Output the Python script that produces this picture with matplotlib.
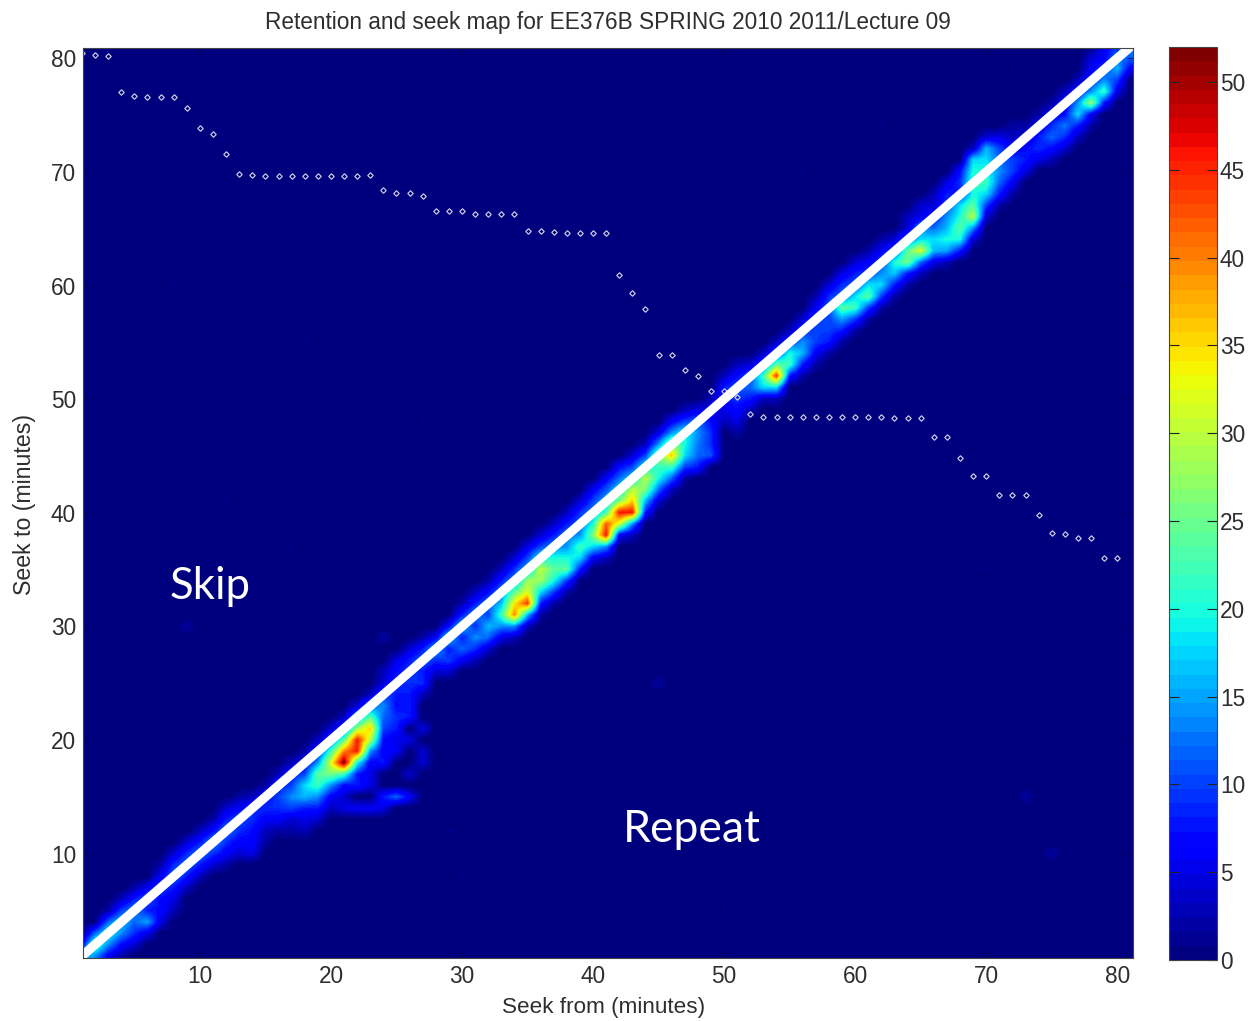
import numpy as np
import matplotlib
matplotlib.use("Agg")
import matplotlib.pyplot as plt
from matplotlib.colors import ListedColormap, Normalize

TITLE = "Retention and seek map for EE376B SPRING 2010 2011/Lecture 09"
XLABEL = "Seek from (minutes)"
YLABEL = "Seek to (minutes)"
TICKS = [10, 20, 30, 40, 50, 60, 70, 80]
CBAR_TICKS = [0, 5, 10, 15, 20, 25, 30, 35, 40, 45, 50]
MINUTES = list(range(1, 82))
DIAGONAL = [1, 82]

# offset = seek-from minus seek-to, one row per seek-from minute
BAND_OFFSETS = [-3, -2, -1, 0, 1, 2, 3, 4, 5, 6]
BAND_VALUES = [
    [0, 0, 6, 18, 8, 0, 0, 0, 0, 0],
    [0, 0, 12, 24, 14, 4, 0, 0, 0, 0],
    [0, 2, 12, 20, 14, 6, 0, 0, 0, 0],
    [0, 3, 10, 17, 14, 7, 2, 0, 0, 0],
    [0, 2, 8, 14, 12, 9, 4, 0, 0, 0],
    [0, 0, 6, 11, 8, 15, 5, 0, 0, 0],
    [0, 2, 6, 10, 7, 7, 5, 0, 0, 0],
    [0, 4, 9, 12, 8, 5, 3, 0, 0, 0],
    [0, 4, 9, 12, 8, 3, 0, 0, 0, 0],
    [0, 3, 8, 13, 8, 3, 0, 0, 0, 0],
    [0, 2, 7, 14, 9, 4, 0, 0, 0, 0],
    [0, 4, 8, 13, 9, 6, 2, 0, 0, 0],
    [0, 2, 6, 11, 9, 6, 4, 0, 0, 0],
    [0, 0, 3, 9, 9, 7, 7, 5, 0, 0],
    [0, 0, 2, 7, 9, 6, 3, 2, 0, 0],
    [0, 0, 3, 8, 10, 9, 6, 2, 0, 0],
    [0, 0, 3, 8, 10, 14, 10, 4, 2, 0],
    [0, 0, 2, 6, 10, 18, 16, 8, 5, 3],
    [0, 0, 3, 8, 14, 24, 22, 14, 8, 4],
    [0, 0, 4, 10, 22, 32, 26, 14, 6, 3],
    [0, 0, 3, 10, 24, 40, 52, 22, 7, 4],
    [0, 0, 4, 14, 28, 46, 46, 20, 8, 4],
    [0, 0, 3, 12, 24, 36, 30, 14, 6, 5],
    [0, 3, 4, 10, 14, 12, 10, 7, 6, 8],
    [0, 5, 7, 9, 8, 7, 9, 8, 5, 6],
    [0, 4, 8, 10, 9, 8, 8, 6, 0, 0],
    [0, 2, 8, 12, 8, 9, 3, 0, 0, 0],
    [0, 0, 6, 16, 9, 4, 0, 0, 0, 0],
    [0, 0, 7, 18, 8, 10, 4, 0, 0, 0],
    [0, 2, 8, 17, 8, 12, 6, 0, 0, 0],
    [0, 3, 8, 14, 9, 14, 9, 3, 0, 0],
    [0, 2, 7, 12, 10, 16, 12, 4, 0, 0],
    [0, 3, 8, 13, 16, 22, 14, 5, 0, 0],
    [0, 4, 9, 14, 24, 34, 40, 14, 3, 0],
    [0, 5, 10, 16, 28, 32, 44, 16, 3, 0],
    [0, 4, 10, 20, 30, 28, 18, 8, 2, 0],
    [0, 3, 8, 14, 20, 24, 20, 10, 2, 0],
    [0, 3, 8, 13, 14, 20, 24, 10, 2, 0],
    [0, 4, 9, 12, 14, 22, 18, 8, 0, 0],
    [0, 6, 10, 14, 20, 26, 18, 6, 0, 0],
    [0, 6, 11, 16, 22, 42, 46, 14, 3, 0],
    [0, 7, 12, 18, 26, 46, 32, 6, 0, 0],
    [0, 4, 10, 18, 30, 36, 46, 14, 3, 0],
    [0, 3, 10, 20, 30, 26, 16, 8, 0, 0],
    [0, 5, 14, 26, 22, 20, 12, 4, 0, 0],
    [0, 6, 14, 28, 36, 22, 12, 3, 0, 0],
    [0, 3, 10, 20, 20, 18, 10, 2, 0, 0],
    [0, 0, 5, 12, 14, 13, 12, 8, 0, 0],
    [0, 0, 3, 5, 7, 9, 9, 11, 0, 0],
    [0, 3, 8, 8, 5, 3, 0, 0, 0, 0],
    [0, 3, 7, 11, 9, 7, 5, 2, 0, 0],
    [0, 0, 4, 11, 12, 8, 3, 0, 0, 0],
    [0, 0, 3, 10, 22, 18, 3, 0, 0, 0],
    [0, 0, 3, 10, 24, 44, 18, 3, 0, 0],
    [0, 0, 3, 9, 20, 22, 8, 0, 0, 0],
    [0, 0, 4, 9, 14, 16, 8, 2, 0, 0],
    [0, 2, 6, 10, 10, 10, 6, 2, 0, 0],
    [0, 4, 9, 11, 10, 10, 8, 2, 0, 0],
    [0, 5, 9, 12, 24, 15, 8, 2, 0, 0],
    [0, 4, 8, 11, 18, 22, 10, 2, 0, 0],
    [0, 2, 6, 10, 18, 24, 10, 2, 0, 0],
    [0, 2, 6, 10, 14, 18, 10, 2, 0, 0],
    [0, 0, 4, 10, 20, 17, 8, 2, 0, 0],
    [0, 3, 4, 12, 24, 26, 8, 2, 0, 0],
    [0, 4, 5, 14, 18, 32, 12, 3, 0, 0],
    [0, 3, 4, 8, 12, 18, 16, 5, 0, 0],
    [0, 5, 8, 10, 14, 16, 20, 15, 3, 0],
    [0, 7, 9, 8, 18, 20, 24, 20, 8, 0],
    [3, 18, 20, 22, 20, 24, 30, 14, 4, 0],
    [4, 16, 18, 20, 22, 18, 10, 4, 0, 0],
    [0, 5, 10, 12, 14, 12, 8, 2, 0, 0],
    [0, 2, 3, 6, 10, 10, 6, 2, 0, 0],
    [0, 0, 2, 4, 7, 8, 5, 0, 0, 0],
    [0, 0, 2, 5, 8, 9, 5, 0, 0, 0],
    [0, 0, 2, 6, 9, 12, 7, 3, 0, 0],
    [0, 0, 3, 6, 7, 13, 9, 4, 0, 0],
    [0, 0, 3, 7, 14, 18, 8, 3, 0, 0],
    [0, 4, 6, 8, 14, 28, 6, 2, 0, 0],
    [4, 6, 6, 10, 14, 22, 8, 0, 0, 0],
    [0, 4, 9, 13, 16, 10, 5, 0, 0, 0],
    [0, 0, 6, 13, 12, 6, 0, 0, 0, 0],
]

# Off-band cells: seek from, seek to, count
EXTRA_FROM = [24, 25, 26, 21, 22, 23, 24, 20, 21, 22, 23, 26, 26, 26, 27, 26, 27, 27]
EXTRA_TO = [15, 15, 15, 14, 14, 14, 14, 16, 16, 16, 16, 24, 22, 20, 18, 17, 19, 21]
EXTRA_VAL = [8, 12, 6, 5, 6, 6, 5, 6, 7, 8, 5, 7, 8, 5, 4, 4, 4, 5]

FAINT_FROM = [9, 13, 12, 6, 17, 24, 30, 29, 8, 19, 38, 41, 33, 46, 56, 62, 67, 72, 73, 75, 55, 44, 60, 45, 14, 18, 50, 49, 70, 64, 35, 27]
FAINT_TO = [30, 33, 41, 46, 37, 29, 8, 12, 60, 64, 72, 66, 74, 67, 70, 74, 77, 79, 15, 10, 11, 20, 24, 25, 52, 55, 5, 12, 35, 40, 17, 48]
FAINT_VAL = [2, 1, 1, 1, 1, 2, 1, 1, 1, 1, 1, 1, 1, 1, 1, 1, 1, 1, 2, 2, 1, 1, 1, 2, 1, 1, 1, 1, 1, 1, 1, 1]

# Retention curve: seek-to value for each seek-from minute
RETENTION = [80.5, 80.3, 80.2, 77.0, 76.7, 76.6, 76.6, 76.6, 75.6, 73.9, 73.3, 71.6,
             69.8, 69.7, 69.6, 69.6, 69.6, 69.6, 69.6, 69.6, 69.6, 69.6, 69.7, 68.4,
             68.1, 68.1, 67.9, 66.6, 66.6, 66.6, 66.3, 66.3, 66.3, 66.3, 64.8, 64.8,
             64.7, 64.6, 64.6, 64.6, 64.6, 60.9, 59.3, 57.9, 53.9, 53.9, 52.6, 52.0,
             50.7, 50.7, 50.2, 48.7, 48.4, 48.4, 48.4, 48.4, 48.4, 48.4, 48.4, 48.4,
             48.4, 48.4, 48.3, 48.3, 48.3, 46.7, 46.7, 44.8, 43.2, 43.2, 41.6, 41.6,
             41.6, 39.8, 38.2, 38.1, 37.8, 37.8, 36.0, 36.0]

W, H = 1251, 1021
fig = plt.figure(figsize=(W / 100, H / 100), dpi=100, facecolor="white")
plt.rcParams["font.family"] = ["Liberation Sans", "DejaVu Sans"]
TXT = "#2e2e2e"


def rect(l, t, r, b):
    return [l / W, 1 - b / H, (r - l) / W, (b - t) / H]


grid = np.zeros((81, 81))
for i, row in enumerate(BAND_VALUES):
    f = MINUTES[i]
    for d, v in zip(BAND_OFFSETS, row):
        t = f - d
        if 1 <= t <= 81 and v:
            grid[t - 1, f - 1] = v
for f, t, v in zip(EXTRA_FROM + FAINT_FROM, EXTRA_TO + FAINT_TO, EXTRA_VAL + FAINT_VAL):
    grid[t - 1, f - 1] = max(grid[t - 1, f - 1], v)

cmap = ListedColormap(plt.get_cmap("jet")(np.linspace(0, 1, 64)))
norm = Normalize(0, 52)

ax = fig.add_axes(rect(83, 48, 1133, 958))
im = ax.imshow(grid, origin="lower", extent=(0.5, 81.5, 0.5, 81.5), cmap=cmap, norm=norm,
               aspect="auto", interpolation="bilinear", interpolation_stage="data")
ax.plot(MINUTES[:len(RETENTION)], RETENTION, ls="none", marker="D", ms=2.8, mfc="none",
        mec="#d8d8e8", mew=0.8)
ax.plot(DIAGONAL, DIAGONAL, color="white", lw=6.6, solid_capstyle="butt")
ax.set_xlim(1.08, 81.2)
ax.set_ylim(0.82, 80.9)
ax.set_xticks(TICKS)
ax.set_yticks(TICKS)
ax.tick_params(direction="in", length=4, width=0.5, top=True, right=True, color="#000050",
               labelsize=16.3, labelcolor=TXT, pad=5)
for s in ax.spines.values():
    s.set_linewidth(0.8)
    s.set_color("#444444")
ax.set_title(TITLE, fontsize=16.3, color=TXT, y=1, pad=14)
fig.text(604 / W, 1 - 1007 / H, XLABEL, fontsize=16.2, color=TXT, ha="center", va="center")
fig.text(25 / W, 1 - 504 / H, YLABEL, fontsize=16.7, color=TXT, rotation=90, ha="center", va="center")

fig.text(210 / W, 1 - 586 / H, "Skip", family="Lato", fontsize=31.5, color="white", ha="center", va="center")
fig.text(692 / W, 1 - 830 / H, "Repeat", family="Lato", fontsize=32, color="white", ha="center", va="center")

cax = fig.add_axes(rect(1169, 47, 1217, 960))
cb = fig.colorbar(im, cax=cax)
cb.set_ticks(CBAR_TICKS)
cax.tick_params(direction="in", length=7, width=0.8, left=True, right=True, color="#222222",
                labelsize=16.3, labelcolor=TXT, pad=2)
cb.outline.set_linewidth(0.8)
cb.outline.set_edgecolor("#444444")

fig.savefig("out.png", dpi=100)
